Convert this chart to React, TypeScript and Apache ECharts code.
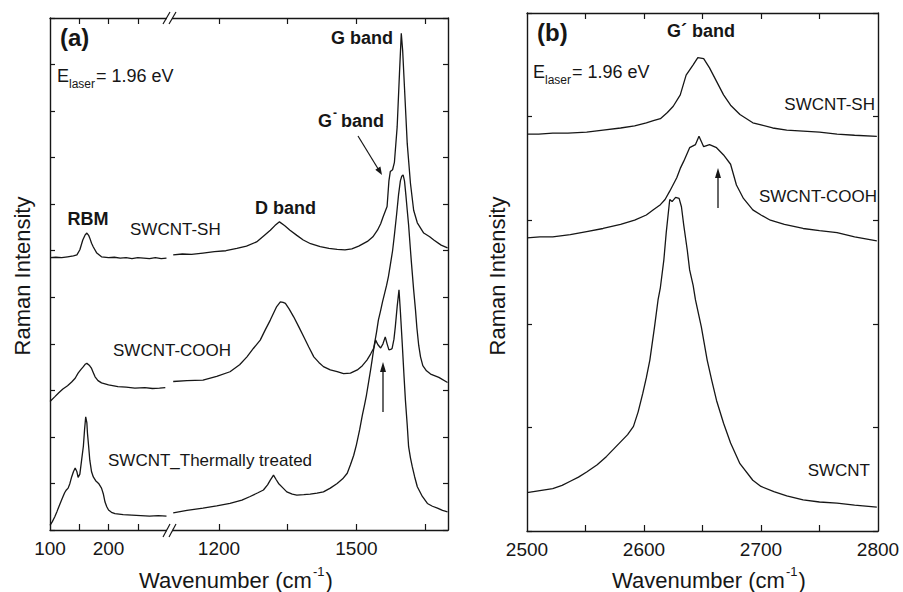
import React, { useEffect, useRef } from 'react';
import * as echarts from 'echarts';

// ---------- data (wavenumber cm-1, offset Raman intensity a.u.) ----------
// Panel (a), low-wavenumber segment
const shLeft = [[100,5.85],[110,5.86],[120,5.85],[130,5.87],[140,5.89],[146,5.91],[151,6.02],[156,6.23],[160,6.34],[163,6.38],[166,6.33],[168,6.27],[171,6.16],[174,6.08],[180,5.95],[188,5.87],[200,5.85],[210,5.86],[220,5.84],[230,5.85],[240,5.83],[250,5.85],[260,5.84],[270,5.83],[280,5.85],[290,5.83],[299,5.84]];
const coohLeft = [[100,2.76],[108,2.86],[115,2.95],[122,3.03],[130,3.1],[137,3.18],[143,3.26],[148,3.37],[153,3.45],[157,3.51],[160,3.56],[163,3.58],[167,3.54],[171,3.47],[174,3.38],[177,3.29],[182,3.21],[188,3.16],[200,3.12],[216,3.08],[230,3.07],[245,3.05],[262,3.06],[275,3.04],[287,3.05],[297,3.06]];
const thermalLeft = [[100,0.1],[104,0.18],[108,0.28],[112,0.4],[117,0.56],[121,0.68],[125,0.8],[128,0.86],[131,0.9],[134,1.0],[137,1.14],[140,1.25],[143,1.33],[146,1.25],[148,1.13],[151,1.2],[154,1.5],[157,1.8],[159,2.15],[161,2.43],[163,2.3],[164,2.08],[166,1.8],[168,1.5],[171,1.25],[174,1.14],[178,1.06],[183,1.0],[188,0.9],[191,0.78],[194,0.6],[197,0.5],[200,0.43],[205,0.38],[211,0.35],[225,0.33],[240,0.32],[255,0.31],[270,0.3],[285,0.31],[299,0.3]];
// Panel (a), D / G band segment
const shRight = [[1100,5.91],[1120,5.93],[1140,5.92],[1165,5.95],[1190,5.98],[1215,6.0],[1239,6.05],[1260,6.1],[1282,6.19],[1300,6.34],[1312,6.44],[1322,6.54],[1332,6.62],[1343,6.54],[1355,6.44],[1370,6.33],[1384,6.23],[1400,6.15],[1421,6.09],[1440,6.05],[1458,6.03],[1475,6.02],[1490,6.04],[1505,6.1],[1524,6.2],[1536,6.3],[1546,6.44],[1553,6.58],[1558,6.72],[1563,6.85],[1567,6.95],[1571,7.5],[1574,7.7],[1579,7.74],[1583,7.9],[1589,8.66],[1594,9.8],[1598,10.67],[1601,10.3],[1604,9.7],[1608,8.9],[1611,8.3],[1618,7.45],[1625,6.87],[1633,6.6],[1647,6.38],[1660,6.3],[1669,6.23],[1685,6.12],[1699,6.06]];
const coohRight = [[1100,3.19],[1130,3.21],[1165,3.22],[1195,3.3],[1224,3.4],[1245,3.55],[1261,3.72],[1275,3.9],[1290,4.08],[1301,4.3],[1312,4.51],[1320,4.68],[1326,4.8],[1334,4.9],[1340,4.89],[1345,4.87],[1353,4.75],[1363,4.58],[1374,4.37],[1385,4.15],[1396,3.93],[1407,3.72],[1418,3.6],[1428,3.51],[1443,3.44],[1458,3.4],[1472,3.36],[1487,3.37],[1502,3.44],[1513,3.53],[1523,3.65],[1531,3.78],[1538,3.91],[1542,4.08],[1547,3.98],[1553,3.91],[1558,4.0],[1563,4.15],[1567,4.0],[1571,3.87],[1575,3.88],[1578,3.9],[1582,4.1],[1585,4.37],[1589,4.8],[1593,5.16],[1596,4.7],[1600,4.02],[1604,3.3],[1607,2.79],[1611,2.25],[1614,1.79],[1618,1.55],[1622,1.36],[1627,1.15],[1633,0.93],[1644,0.72],[1655,0.57],[1666,0.51],[1677,0.47],[1688,0.42],[1699,0.39]];
const thermalRight = [[1100,0.37],[1130,0.42],[1165,0.47],[1195,0.52],[1224,0.57],[1250,0.64],[1268,0.72],[1285,0.8],[1297,0.86],[1306,0.97],[1312,1.07],[1319,1.18],[1325,1.08],[1330,1.0],[1340,0.9],[1348,0.82],[1360,0.77],[1370,0.75],[1385,0.76],[1399,0.77],[1414,0.79],[1428,0.82],[1443,0.9],[1458,1.0],[1470,1.1],[1480,1.22],[1487,1.4],[1494,1.6],[1500,1.83],[1507,2.15],[1513,2.47],[1518,2.7],[1522,2.9],[1527,3.2],[1531,3.44],[1535,3.7],[1539,3.97],[1544,4.25],[1548,4.51],[1553,4.72],[1557,4.9],[1562,5.1],[1566,5.26],[1570,5.45],[1574,5.69],[1579,6.0],[1583,6.34],[1588,6.8],[1592,7.2],[1596,7.5],[1599,7.6],[1602,7.63],[1605,7.5],[1608,7.2],[1611,6.87],[1614,6.55],[1617,6.15],[1620,5.76],[1625,5.16],[1629,4.73],[1632,4.35],[1636,3.97],[1640,3.72],[1645,3.53],[1653,3.42],[1662,3.35],[1680,3.28],[1699,3.17]];
// Panel (b), G' band
const shB = [[2500,3.83],[2510,3.83],[2522,3.84],[2535,3.84],[2551,3.85],[2565,3.87],[2580,3.89],[2592,3.91],[2602,3.94],[2608,3.96],[2614,3.98],[2620,4.04],[2625,4.1],[2631,4.21],[2636,4.4],[2642,4.5],[2646,4.57],[2651,4.56],[2656,4.47],[2662,4.34],[2668,4.21],[2674,4.11],[2682,4.02],[2693,3.94],[2700,3.92],[2710,3.89],[2722,3.87],[2736,3.86],[2750,3.85],[2765,3.83],[2780,3.82],[2799,3.81]];
const coohB = [[2500,2.83],[2511,2.84],[2522,2.84],[2537,2.86],[2551,2.89],[2565,2.92],[2580,2.96],[2592,3.0],[2602,3.05],[2608,3.1],[2614,3.15],[2618,3.2],[2622,3.28],[2628,3.41],[2631,3.5],[2634,3.57],[2639,3.7],[2644,3.73],[2647,3.81],[2651,3.71],[2656,3.73],[2662,3.7],[2668,3.63],[2674,3.54],[2679,3.34],[2685,3.21],[2693,3.1],[2700,3.05],[2708,3.0],[2720,2.96],[2736,2.92],[2750,2.9],[2765,2.88],[2780,2.84],[2799,2.8]];
const swcntB = [[2500,0.37],[2511,0.39],[2522,0.41],[2530,0.44],[2537,0.48],[2544,0.52],[2551,0.57],[2560,0.64],[2568,0.72],[2574,0.79],[2580,0.86],[2586,0.93],[2591,1.01],[2595,1.15],[2599,1.33],[2602,1.48],[2605,1.65],[2609,1.97],[2612,2.23],[2614,2.35],[2617,2.62],[2619,2.88],[2622,3.2],[2624,3.18],[2627,3.22],[2630,3.21],[2632,3.13],[2634,2.95],[2637,2.71],[2639,2.52],[2642,2.37],[2644,2.23],[2649,1.97],[2654,1.65],[2658,1.45],[2662,1.26],[2668,1.04],[2674,0.85],[2682,0.65],[2693,0.49],[2700,0.43],[2711,0.38],[2722,0.34],[2736,0.3],[2750,0.28],[2765,0.27],[2780,0.25],[2799,0.23]];

// ---------- ticks ----------
const ticksA1 = [150, 200, 250];
const labelsA1 = [100, 200];
const ticksA2 = [1200, 1350, 1500, 1650];
const labelsA2 = [1200, 1500];
const ticksB = [2550, 2600, 2650, 2700, 2750];
const labelsB = [2500, 2600, 2700, 2800];

const FONT = '"Liberation Sans", Arial, Helvetica, sans-serif';
const INK = '#161616';

function xAx(gridIndex: number, min: number, max: number, position: string, ticks: number[], labels: number[] | null) {
  return {
    type: 'value', gridIndex, min, max, position,
    axisLine: { show: true, onZero: false, lineStyle: { color: INK, width: 1.4 } },
    axisTick: { show: true, inside: true, length: 6, customValues: ticks, lineStyle: { color: INK, width: 1.2 } },
    axisLabel: labels
      ? { show: true, customValues: labels, color: INK, fontSize: 19, fontFamily: FONT, margin: 9, formatter: (v: number) => String(v) }
      : { show: false },
    splitLine: { show: false },
  };
}
function yAx(gridIndex: number, max: number, position: string) {
  return {
    type: 'value', gridIndex, min: 0, max, interval: 1, position,
    axisLine: { show: true, onZero: false, lineStyle: { color: INK, width: 1.4 } },
    axisTick: { show: true, inside: true, length: 5, lineStyle: { color: INK, width: 1.2 } },
    axisLabel: { show: false },
    splitLine: { show: false },
  };
}
function line(data: number[][], xi: number, yi: number) {
  return {
    type: 'line', xAxisIndex: xi, yAxisIndex: yi, data,
    showSymbol: false, symbol: 'none', silent: true, clip: true,
    lineStyle: { color: INK, width: 1.3 },
  };
}
function txt(x: number, y: number, text: string, size: number, opts: any = {}) {
  return {
    type: 'text', x, y, z: 100, rotation: opts.rotation || 0,
    style: {
      text, fill: INK, fontSize: size, fontFamily: FONT,
      fontWeight: opts.bold ? 'bold' : 'normal',
      align: opts.align || 'left', verticalAlign: 'middle',
    },
  };
}
function seg(x1: number, y1: number, x2: number, y2: number, w = 1.3) {
  return { type: 'line', z: 100, shape: { x1, y1, x2, y2 }, style: { stroke: INK, lineWidth: w } };
}
function head(points: number[][]) {
  return { type: 'polygon', z: 100, shape: { points }, style: { fill: INK } };
}

export default function App() {
  const ref = useRef<HTMLDivElement>(null);
  useEffect(() => {
    document.body.style.margin = '0';
    const chart = echarts.init(ref.current as HTMLDivElement, null, { renderer: 'svg' });
    const graphic: any[] = [
      // axis break marks
      { type: 'rect', z: 99, shape: { x: 167, y: 15, width: 5, height: 6 }, style: { fill: '#fff' } },
      { type: 'rect', z: 99, shape: { x: 167, y: 527, width: 5, height: 6 }, style: { fill: '#fff' } },
      seg(163, 24, 170, 12, 1.2), seg(169, 24, 176, 12, 1.2),
      seg(163, 537, 170, 524, 1.2), seg(169, 537, 176, 524, 1.2),
      // panel (a) texts
      txt(60, 37, '(a)', 24, { bold: true }),
      txt(57, 76, 'E', 18), txt(69, 84, 'laser', 12), txt(96, 76, '= 1.96 eV', 18),
      txt(393, 38, 'G band', 18, { bold: true, align: 'right' }),
      txt(318, 121, 'G', 18, { bold: true }), txt(333, 113, '-', 12, { bold: true }), txt(336, 121, ' band', 18, { bold: true }),
      txt(255, 208, 'D band', 18, { bold: true }),
      txt(88, 219, 'RBM', 18, { bold: true, align: 'center' }),
      txt(130, 229, 'SWCNT-SH', 17),
      txt(113, 350, 'SWCNT-COOH', 17),
      txt(108, 460, 'SWCNT_Thermally treated', 17),
      // arrows panel (a)
      seg(358, 136, 378.5, 169.5, 1.2), head([[382, 175], [375.3, 169.8], [380.4, 166.6]]),
      seg(383, 412, 383, 371, 1.3), head([[383, 362], [380, 372], [386, 372]]),
      // panel (a) axis titles
      txt(22, 276, 'Raman Intensity', 22, { align: 'center', rotation: Math.PI / 2 }),
      txt(139, 580, 'Wavenumber (cm', 22), txt(313, 571, '-1', 13), txt(325.5, 580, ')', 22),
      // panel (b) texts
      txt(537, 32, '(b)', 24, { bold: true }),
      txt(701, 31, 'G\u00b4 band', 18, { bold: true, align: 'center' }),
      txt(533, 72, 'E', 18), txt(545, 80, 'laser', 12), txt(572, 72, '= 1.96 eV', 18),
      txt(875, 104, 'SWCNT-SH', 17, { align: 'right' }),
      txt(877, 196, 'SWCNT-COOH', 17, { align: 'right' }),
      txt(870, 470, 'SWCNT', 17, { align: 'right' }),
      seg(718, 208, 718, 177, 1.3), head([[718, 168], [715, 178], [721, 178]]),
      txt(497, 276, 'Raman Intensity', 22, { align: 'center', rotation: Math.PI / 2 }),
      txt(612, 580, 'Wavenumber (cm', 22), txt(786, 571, '-1', 13), txt(798.5, 580, ')', 22),
    ];
    chart.setOption({
      animation: false,
      backgroundColor: '#ffffff',
      grid: [
        { left: 50, top: 18, width: 120, height: 512 },
        { left: 170, top: 18, width: 278, height: 512 },
        { left: 527, top: 13, width: 351, height: 518 },
      ],
      xAxis: [
        xAx(0, 100, 305, 'bottom', ticksA1, labelsA1),
        xAx(0, 100, 305, 'top', ticksA1, null),
        xAx(1, 1093, 1700, 'bottom', ticksA2, labelsA2),
        xAx(1, 1093, 1700, 'top', ticksA2, null),
        xAx(2, 2500, 2800, 'bottom', ticksB, labelsB),
        xAx(2, 2500, 2800, 'top', ticksB, null),
      ],
      yAxis: [
        yAx(0, 11, 'left'),
        yAx(1, 11, 'right'),
        yAx(2, 5, 'left'),
        yAx(2, 5, 'right'),
      ],
      series: [
        line(shLeft, 0, 0), line(coohLeft, 0, 0), line(thermalLeft, 0, 0),
        line(shRight, 2, 1), line(coohRight, 2, 1), line(thermalRight, 2, 1),
        line(shB, 4, 2), line(coohB, 4, 2), line(swcntB, 4, 2),
      ],
      graphic,
    });
    return () => chart.dispose();
  }, []);
  return <div ref={ref} style={{ position: 'absolute', left: 0, top: 0, width: 903, height: 592, background: '#fff' }} />;
}
